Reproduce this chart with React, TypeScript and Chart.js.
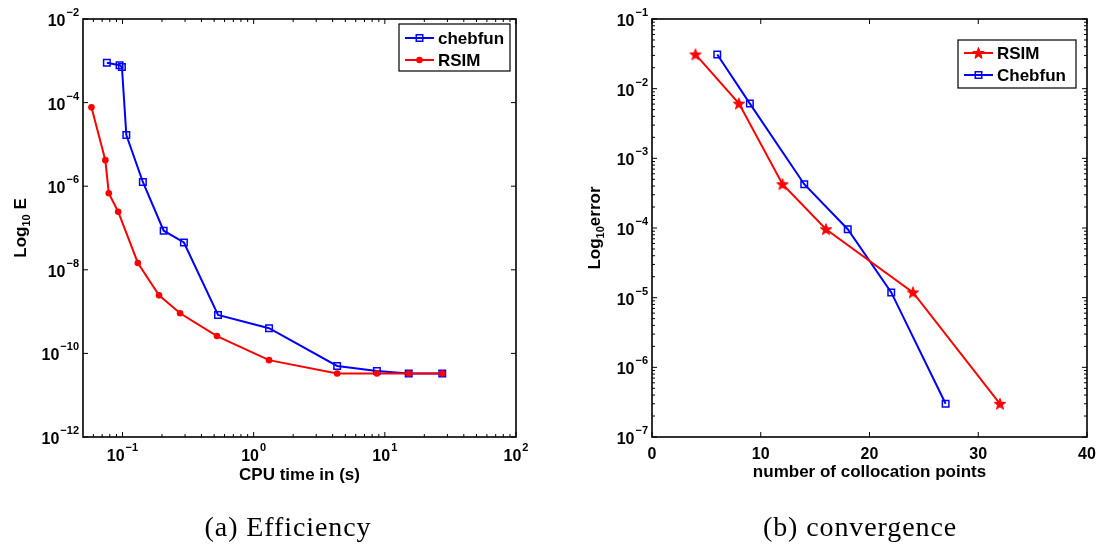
import React, { useEffect, useRef } from 'react';
import { Chart, registerables } from 'chart.js';
Chart.register(...registerables);

// ---- (a) Efficiency data ----
const chebfunTime = [0.076, 0.095, 0.099, 0.107, 0.143, 0.206, 0.294, 0.535, 1.31, 4.33, 8.7, 15.2, 27.4];
const chebfunE = [9.0e-4, 7.8e-4, 7.1e-4, 1.68e-5, 1.26e-6, 8.6e-8, 4.5e-8, 8.3e-10, 4.0e-10, 5.0e-11, 3.8e-11, 3.3e-11, 3.3e-11];
const rsimTime = [0.058, 0.074, 0.0786, 0.0927, 0.131, 0.19, 0.275, 0.525, 1.31, 4.33, 8.7, 15.2, 27.4];
const rsimE = [7.7e-5, 4.2e-6, 6.8e-7, 2.45e-7, 1.46e-8, 2.45e-9, 9.1e-10, 2.6e-10, 6.9e-11, 3.3e-11, 3.3e-11, 3.3e-11, 3.3e-11];

// ---- (b) convergence data ----
const rsimPoints = [4, 8, 12, 16, 24, 32];
const rsimError = [0.031, 6.1e-3, 4.25e-4, 9.6e-5, 1.19e-5, 3.0e-7];
const chebPoints = [6, 9, 14, 18, 22, 27];
const chebError = [0.031, 6.1e-3, 4.25e-4, 9.6e-5, 1.19e-5, 3.0e-7];

// ---- tick labels ----
const effXTicks = [0.1, 1, 10, 100];
const effYTicks = [1e-2, 1e-4, 1e-6, 1e-8, 1e-10, 1e-12];
const convXTicks = [0, 10, 20, 30, 40];
const convYTicks = [1e-1, 1e-2, 1e-3, 1e-4, 1e-5, 1e-6, 1e-7];

const BLUE = '#0000ff';
const RED = '#ff0000';
const SANS = '"Liberation Sans", Arial, Helvetica, sans-serif';
const TICK_FONT = `bold 16px ${SANS}`;
const EXP_FONT = `bold 11px ${SANS}`;
const TITLE_FONT = `bold 17px ${SANS}`;
const SUB_FONT = `bold 11px ${SANS}`;

function logMinors(min: number, max: number): number[] {
  const out: number[] = [];
  for (let k = Math.floor(Math.log10(min)); k <= Math.ceil(Math.log10(max)); k++) {
    for (let m = 2; m <= 9; m++) {
      const v = m * Math.pow(10, k);
      if (v > min * 1.0001 && v < max * 0.9999) out.push(v);
    }
  }
  return out;
}

function drawStarPath(ctx: CanvasRenderingContext2D, cx: number, cy: number, R: number) {
  const r = R * 0.42;
  ctx.beginPath();
  for (let i = 0; i < 10; i++) {
    const ang = -Math.PI / 2 + (i * Math.PI) / 5;
    const rad = i % 2 === 0 ? R : r;
    const x = cx + rad * Math.cos(ang);
    const y = cy + rad * Math.sin(ang);
    if (i === 0) ctx.moveTo(x, y);
    else ctx.lineTo(x, y);
  }
  ctx.closePath();
}

function makeStarImage(): HTMLCanvasElement {
  const c = document.createElement('canvas');
  c.width = 14;
  c.height = 14;
  const ctx = c.getContext('2d')!;
  ctx.fillStyle = RED;
  ctx.strokeStyle = RED;
  ctx.lineWidth = 1;
  drawStarPath(ctx, 7, 7.5, 6);
  ctx.fill();
  ctx.stroke();
  return c;
}

function drawPow(ctx: CanvasRenderingContext2D, exp: number, x: number, baseline: number, align: 'center' | 'right') {
  const base = '10';
  const e = (exp < 0 ? '\u2212' : '') + Math.abs(exp);
  ctx.font = TICK_FONT;
  const wb = ctx.measureText(base).width;
  ctx.font = EXP_FONT;
  const we = ctx.measureText(e).width;
  const total = wb + we + 1;
  const sx = align === 'right' ? x - total : x - total / 2;
  ctx.textAlign = 'left';
  ctx.textBaseline = 'alphabetic';
  ctx.font = TICK_FONT;
  ctx.fillText(base, sx, baseline);
  ctx.font = EXP_FONT;
  ctx.fillText(e, sx + wb + 1, baseline - 10);
}

type LegendItem = { label: string; color: string; marker: 'square' | 'dot' | 'star'; y: number };
type FrameCfg = {
  id: string;
  xMajor: number[];
  xMinor: number[];
  yMajor: number[];
  yMinor: number[];
  xLog: boolean;
  xLabelBaseline: number;
  xTitle: string;
  xTitleY: number;
  yTitleX: number;
  yTitleMain: string;
  yTitleSub: string;
  yTitleRest: string;
  legend: { x: number; y: number; w: number; h: number; lineX: number; lineW: number; textX: number; items: LegendItem[] };
};

function drawMarker(ctx: CanvasRenderingContext2D, kind: string, color: string, x: number, y: number) {
  ctx.save();
  if (kind === 'square') {
    ctx.strokeStyle = color;
    ctx.lineWidth = 1.5;
    ctx.strokeRect(x - 3.25, y - 3.25, 6.5, 6.5);
  } else if (kind === 'dot') {
    ctx.fillStyle = color;
    ctx.beginPath();
    ctx.arc(x, y, 3.3, 0, Math.PI * 2);
    ctx.fill();
  } else {
    ctx.fillStyle = color;
    ctx.strokeStyle = color;
    ctx.lineWidth = 1;
    drawStarPath(ctx, x, y + 0.5, 6);
    ctx.fill();
    ctx.stroke();
  }
  ctx.restore();
}

function makeFrame(cfg: FrameCfg) {
  return {
    id: 'frame_' + cfg.id,
    afterDraw(chart: any) {
      const { ctx, chartArea: a, scales } = chart;
      const xs = scales.x;
      const ys = scales.y;
      ctx.save();
      ctx.fillStyle = '#000';
      ctx.strokeStyle = '#000';
      const seg = (x1: number, y1: number, x2: number, y2: number) => {
        ctx.beginPath();
        ctx.moveTo(x1, y1);
        ctx.lineTo(x2, y2);
        ctx.stroke();
      };
      ctx.lineWidth = 1;
      const MAJ = 5;
      const MIN = 3;
      for (const v of cfg.xMinor) {
        const p = xs.getPixelForValue(v);
        seg(p, a.bottom, p, a.bottom - MIN);
        seg(p, a.top, p, a.top + MIN);
      }
      for (const v of cfg.xMajor) {
        const p = xs.getPixelForValue(v);
        seg(p, a.bottom, p, a.bottom - MAJ);
        seg(p, a.top, p, a.top + MAJ);
      }
      for (const v of cfg.yMinor) {
        const p = ys.getPixelForValue(v);
        seg(a.left, p, a.left + MIN, p);
        seg(a.right, p, a.right - MIN, p);
      }
      for (const v of cfg.yMajor) {
        const p = ys.getPixelForValue(v);
        seg(a.left, p, a.left + MAJ, p);
        seg(a.right, p, a.right - MAJ, p);
      }
      ctx.lineWidth = 1.6;
      ctx.strokeRect(a.left, a.top, a.right - a.left, a.bottom - a.top);

      // tick labels
      for (const v of cfg.xMajor) {
        const p = xs.getPixelForValue(v);
        if (cfg.xLog) {
          drawPow(ctx, Math.round(Math.log10(v)), p, cfg.xLabelBaseline, 'center');
        } else {
          ctx.font = TICK_FONT;
          ctx.textAlign = 'center';
          ctx.textBaseline = 'alphabetic';
          ctx.fillText(String(v), p, cfg.xLabelBaseline);
        }
      }
      for (const v of cfg.yMajor) {
        const p = ys.getPixelForValue(v);
        drawPow(ctx, Math.round(Math.log10(v)), a.left - 4, p + 7, 'right');
      }

      // x title
      ctx.font = TITLE_FONT;
      ctx.textAlign = 'center';
      ctx.textBaseline = 'middle';
      ctx.fillText(cfg.xTitle, (a.left + a.right) / 2, cfg.xTitleY);

      // y title
      ctx.save();
      ctx.translate(cfg.yTitleX, (a.top + a.bottom) / 2);
      ctx.rotate(-Math.PI / 2);
      ctx.textAlign = 'left';
      ctx.textBaseline = 'alphabetic';
      ctx.font = TITLE_FONT;
      const wm = ctx.measureText(cfg.yTitleMain).width;
      const wr = ctx.measureText(cfg.yTitleRest).width;
      ctx.font = SUB_FONT;
      const wsub = ctx.measureText(cfg.yTitleSub).width;
      let cx = -(wm + wsub + wr) / 2;
      ctx.font = TITLE_FONT;
      ctx.fillText(cfg.yTitleMain, cx, 6);
      cx += wm;
      ctx.font = SUB_FONT;
      ctx.fillText(cfg.yTitleSub, cx, 10);
      cx += wsub;
      ctx.font = TITLE_FONT;
      ctx.fillText(cfg.yTitleRest, cx, 6);
      ctx.restore();

      // legend
      const L = cfg.legend;
      ctx.fillStyle = '#fff';
      ctx.fillRect(L.x, L.y, L.w, L.h);
      ctx.strokeStyle = '#000';
      ctx.lineWidth = 1.2;
      ctx.strokeRect(L.x, L.y, L.w, L.h);
      for (const it of L.items) {
        ctx.strokeStyle = it.color;
        ctx.lineWidth = 2;
        seg(L.lineX, it.y, L.lineX + L.lineW, it.y);
        drawMarker(ctx, it.marker, it.color, L.lineX + L.lineW / 2, it.y);
        ctx.fillStyle = '#000';
        ctx.font = TITLE_FONT;
        ctx.textAlign = 'left';
        ctx.textBaseline = 'middle';
        ctx.fillText(it.label, L.textX, it.y + 1);
      }
      ctx.restore();
    },
  };
}

export default function App() {
  const leftRef = useRef<HTMLCanvasElement>(null);
  const rightRef = useRef<HTMLCanvasElement>(null);

  useEffect(() => {
    const star = makeStarImage();
    const common: any = {
      responsive: false,
      animation: false,
      events: [],
      plugins: { legend: { display: false }, tooltip: { enabled: false } },
      elements: { line: { tension: 0 } },
    };

    const c1 = new Chart(leftRef.current!, {
      type: 'line',
      data: {
        datasets: [
          {
            label: 'RSIM',
            data: rsimTime.map((x, i) => ({ x, y: rsimE[i] })),
            borderColor: RED,
            backgroundColor: RED,
            borderWidth: 2,
            pointStyle: 'circle',
            pointRadius: 3.3,
            pointBorderWidth: 0,
            pointBackgroundColor: RED,
          },
          {
            label: 'chebfun',
            data: chebfunTime.map((x, i) => ({ x, y: chebfunE[i] })),
            borderColor: BLUE,
            backgroundColor: 'rgba(0,0,0,0)',
            borderWidth: 2,
            pointStyle: 'rect',
            pointRadius: 4.6,
            pointBorderWidth: 1.5,
            pointBorderColor: BLUE,
            pointBackgroundColor: 'rgba(0,0,0,0)',
          },
        ],
      } as any,
      options: {
        ...common,
        layout: { padding: { left: 83, top: 19, right: 35, bottom: 108 } },
        scales: {
          x: { type: 'logarithmic', min: 0.05, max: 100, display: false },
          y: { type: 'logarithmic', min: 1e-12, max: 1e-2, display: false },
        },
      },
      plugins: [
        makeFrame({
          id: 'eff',
          xMajor: effXTicks,
          xMinor: logMinors(0.05, 100),
          yMajor: effYTicks,
          yMinor: [],
          xLog: true,
          xLabelBaseline: 461,
          xTitle: 'CPU time in (s)',
          xTitleY: 475,
          yTitleX: 20,
          yTitleMain: 'Log',
          yTitleSub: '10',
          yTitleRest: ' E',
          legend: {
            x: 399,
            y: 24,
            w: 111,
            h: 47,
            lineX: 405,
            lineW: 29,
            textX: 438,
            items: [
              { label: 'chebfun', color: BLUE, marker: 'square', y: 38 },
              { label: 'RSIM', color: RED, marker: 'dot', y: 60 },
            ],
          },
        }),
      ],
    } as any);

    const c2 = new Chart(rightRef.current!, {
      type: 'line',
      data: {
        datasets: [
          {
            label: 'RSIM',
            data: rsimPoints.map((x, i) => ({ x, y: rsimError[i] })),
            borderColor: RED,
            backgroundColor: RED,
            borderWidth: 2,
            pointStyle: star,
            pointRadius: 6,
          },
          {
            label: 'Chebfun',
            data: chebPoints.map((x, i) => ({ x, y: chebError[i] })),
            borderColor: BLUE,
            backgroundColor: 'rgba(0,0,0,0)',
            borderWidth: 2,
            pointStyle: 'rect',
            pointRadius: 4.6,
            pointBorderWidth: 1.5,
            pointBorderColor: BLUE,
            pointBackgroundColor: 'rgba(0,0,0,0)',
          },
        ],
      } as any,
      options: {
        ...common,
        layout: { padding: { left: 101, top: 19, right: 15, bottom: 108 } },
        scales: {
          x: { type: 'linear', min: 0, max: 40, display: false },
          y: { type: 'logarithmic', min: 1e-7, max: 1e-1, display: false },
        },
      },
      plugins: [
        makeFrame({
          id: 'conv',
          xMajor: convXTicks,
          xMinor: [],
          yMajor: convYTicks,
          yMinor: logMinors(1e-7, 1e-1),
          xLog: false,
          xLabelBaseline: 459,
          xTitle: 'number of collocation points',
          xTitleY: 472,
          yTitleX: 43,
          yTitleMain: 'Log',
          yTitleSub: '10',
          yTitleRest: 'error',
          legend: {
            x: 407,
            y: 40,
            w: 118,
            h: 48,
            lineX: 413,
            lineW: 29,
            textX: 446,
            items: [
              { label: 'RSIM', color: RED, marker: 'star', y: 53 },
              { label: 'Chebfun', color: BLUE, marker: 'square', y: 75 },
            ],
          },
        }),
      ],
    } as any);

    return () => {
      c1.destroy();
      c2.destroy();
    };
  }, []);

  const capStyle: React.CSSProperties = {
    position: 'absolute',
    top: 513,
    width: 400,
    textAlign: 'center',
    fontFamily: '"Liberation Serif", "Times New Roman", serif',
    fontSize: 28,
    lineHeight: '28px',
    letterSpacing: '0.9px',
    color: '#000',
    whiteSpace: 'nowrap',
  };

  return (
    <div style={{ position: 'absolute', left: 0, top: 0, width: 1102, height: 545, background: '#fff', overflow: 'hidden' }}>
      <canvas ref={leftRef} width={551} height={545} style={{ position: 'absolute', left: 0, top: 0 }} />
      <canvas ref={rightRef} width={551} height={545} style={{ position: 'absolute', left: 551, top: 0 }} />
      <div style={{ ...capStyle, left: 288 - 200 }}>(a) Efficiency</div>
      <div style={{ ...capStyle, left: 860 - 200 }}>(b) convergence</div>
    </div>
  );
}
